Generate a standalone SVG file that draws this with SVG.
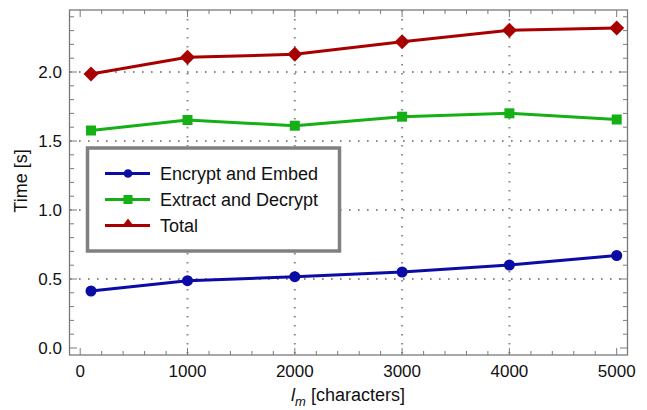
<svg xmlns="http://www.w3.org/2000/svg" width="647" height="410" viewBox="0 0 647 410">
<defs>
<style>
text{font-family:"Liberation Sans",Arial,sans-serif;fill:#111;}
.tk{font-size:17px;}
.grid{stroke:#8a8a8a;stroke-width:2;stroke-dasharray:1.6 7.4;fill:none;}
.frame{stroke:#7a7a7a;stroke-width:1.3;fill:none;}
.tick{stroke:#7a7a7a;stroke-width:1;}
.blue{stroke:#0b0ba5;stroke-width:3;fill:none;stroke-linejoin:round;}
.green{stroke:#15b015;stroke-width:3;fill:none;stroke-linejoin:round;}
.red{stroke:#a80000;stroke-width:3;fill:none;stroke-linejoin:round;}
</style>
<circle id="mc" r="5.5" fill="#0b0ba5"/>
<rect id="ms" x="-5" y="-5" width="10" height="10" fill="#15b015"/>
<path id="md" d="M0,-7.5 L7.5,0 L0,7.5 L-7.5,0 Z" fill="#a80000"/>
</defs>
<rect width="647" height="410" fill="#fff"/>
<g id="grid">
<path class="grid" d="M187.5,10 V355 M294.8,10 V355 M402.1,10 V355 M509.4,10 V355 M70,72 H627 M70,141 H627 M70,210 H627 M70,279 H627"/>
</g>
<g id="frame">
<rect class="frame" x="69.5" y="10" width="558" height="345"/>
<path class="tick" d="M70,348H77 M70,279H77 M70,210H77 M70,141H77 M70,72H77
M70,334.2H74 M70,320.4H74 M70,306.6H74 M70,292.8H74 M70,265.2H74 M70,251.4H74 M70,237.6H74 M70,223.8H74 M70,196.2H74 M70,182.4H74 M70,168.6H74 M70,154.8H74 M70,127.2H74 M70,113.4H74 M70,99.6H74 M70,85.8H74 M70,58.2H74 M70,44.4H74 M70,30.6H74 M70,16.8H74
M627,348H620 M627,279H620 M627,210H620 M627,141H620 M627,72H620
M627,334.2H623 M627,320.4H623 M627,306.6H623 M627,292.8H623 M627,265.2H623 M627,251.4H623 M627,237.6H623 M627,223.8H623 M627,196.2H623 M627,182.4H623 M627,168.6H623 M627,154.8H623 M627,127.2H623 M627,113.4H623 M627,99.6H623 M627,85.8H623 M627,58.2H623 M627,44.4H623 M627,30.6H623 M627,16.8H623
M80.2,355V348 M187.5,355V348 M294.8,355V348 M402.1,355V348 M509.4,355V348 M616.7,355V348
M101.7,355V351 M123.1,355V351 M144.6,355V351 M166.1,355V351 M209,355V351 M230.4,355V351 M251.9,355V351 M273.3,355V351 M316.3,355V351 M337.7,355V351 M359.2,355V351 M380.6,355V351 M423.6,355V351 M445,355V351 M466.5,355V351 M487.9,355V351 M530.9,355V351 M552.3,355V351 M573.8,355V351 M595.2,355V351
M80.2,10V17 M187.5,10V17 M294.8,10V17 M402.1,10V17 M509.4,10V17 M616.7,10V17
M101.7,10V14 M123.1,10V14 M144.6,10V14 M166.1,10V14 M209,10V14 M230.4,10V14 M251.9,10V14 M273.3,10V14 M316.3,10V14 M337.7,10V14 M359.2,10V14 M380.6,10V14 M423.6,10V14 M445,10V14 M466.5,10V14 M487.9,10V14 M530.9,10V14 M552.3,10V14 M573.8,10V14 M595.2,10V14"/>
</g>
<g id="y-labels" class="tk" text-anchor="end">
<text x="62" y="354">0.0</text>
<text x="62" y="285">0.5</text>
<text x="62" y="216">1.0</text>
<text x="62" y="147">1.5</text>
<text x="62" y="78">2.0</text>
</g>
<g id="x-labels" class="tk" text-anchor="middle">
<text x="80.2" y="377">0</text>
<text x="187.5" y="377">1000</text>
<text x="294.8" y="377">2000</text>
<text x="402.1" y="377">3000</text>
<text x="509.4" y="377">4000</text>
<text x="616.7" y="377">5000</text>
</g>
<g id="axis-titles">
<text x="27" y="181" font-size="18" text-anchor="middle" transform="rotate(-90 27 181)">Time [s]</text>
<text x="348" y="401" font-size="18" text-anchor="middle"><tspan font-style="italic">l</tspan><tspan font-style="italic" font-size="13" dy="5">m</tspan><tspan dy="-5"> [characters]</tspan></text>
</g>
<g id="series-encrypt">
<polyline class="blue" points="91,291 187.5,280.7 294.8,276.7 402.1,272 509.4,265 616.7,255.5"/>
<use href="#mc" x="91" y="291"/><use href="#mc" x="187.5" y="280.7"/><use href="#mc" x="294.8" y="276.7"/><use href="#mc" x="402.1" y="272"/><use href="#mc" x="509.4" y="265"/><use href="#mc" x="616.7" y="255.5"/>
</g>
<g id="series-extract">
<polyline class="green" points="91,130.5 187.5,120 294.8,125.7 402.1,116.7 509.4,113.3 616.7,119.5"/>
<use href="#ms" x="91" y="130.5"/><use href="#ms" x="187.5" y="120"/><use href="#ms" x="294.8" y="125.7"/><use href="#ms" x="402.1" y="116.7"/><use href="#ms" x="509.4" y="113.3"/><use href="#ms" x="616.7" y="119.5"/>
</g>
<g id="series-total">
<polyline class="red" points="91,74 187.5,57.3 294.8,54.3 402.1,41.7 509.4,30.3 616.7,28"/>
<use href="#md" x="91" y="74"/><use href="#md" x="187.5" y="57.3"/><use href="#md" x="294.8" y="54.3"/><use href="#md" x="402.1" y="41.7"/><use href="#md" x="509.4" y="30.3"/><use href="#md" x="616.7" y="28"/>
</g>
<g id="legend">
<rect x="87.5" y="148" width="252" height="103" fill="#fff" stroke="#808080" stroke-width="3.5"/>
<line class="blue" x1="105" y1="173.5" x2="150" y2="173.5" stroke-width="2.5"/>
<circle cx="128" cy="173.5" r="4.3" fill="#0b0ba5"/>
<line class="green" x1="105" y1="199.5" x2="150" y2="199.5" stroke-width="2.5"/>
<rect x="123.5" y="195" width="9" height="9" fill="#15b015"/>
<line class="red" x1="105" y1="225.5" x2="150" y2="225.5" stroke-width="2.5"/>
<path d="M128,218.5 L134,226.5 L122,226.5 Z" fill="#a80000"/>
<text x="160" y="180" font-size="18">Encrypt and Embed</text>
<text x="160" y="206" font-size="18">Extract and Decrypt</text>
<text x="160" y="232" font-size="18">Total</text>
</g>
</svg>
